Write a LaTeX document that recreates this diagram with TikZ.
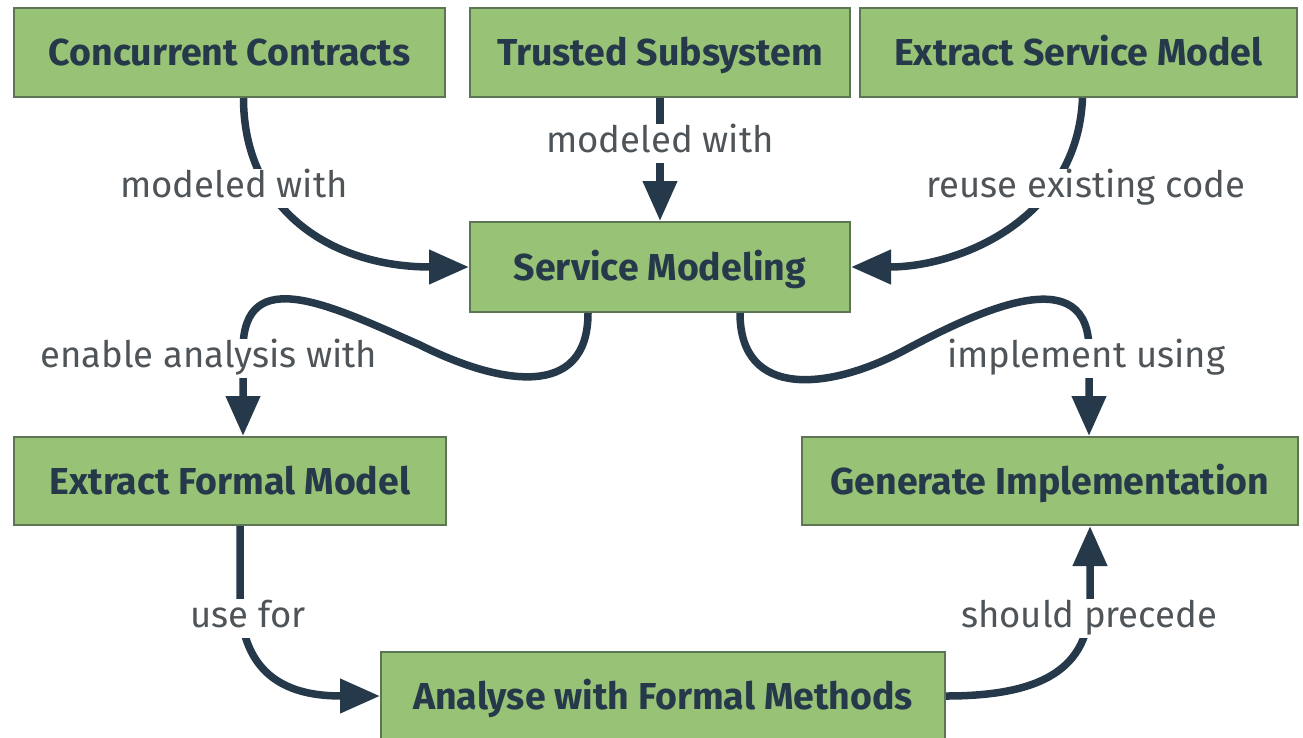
\documentclass[tikz,border=0pt]{standalone}
\usepackage{fontspec}
\setmainfont{Fira Sans}
\usetikzlibrary{arrows.meta}
\definecolor{boxgreen}{RGB}{152,194,118}
\definecolor{boxedge}{RGB}{92,118,84}
\definecolor{ink}{RGB}{37,57,74}
\definecolor{lblgray}{RGB}{78,84,88}
\tikzset{
  box/.style={draw=boxedge, line width=2pt, fill=boxgreen, inner sep=0pt,
    text=ink, text height=26pt, text depth=0pt,
    font=\fontsize{37.5}{40}\selectfont\bfseries},
  lbl/.style={fill=white, inner xsep=3pt, inner ysep=2pt, text=lblgray,
    text height=27pt, text depth=8pt,
    font=\fontsize{36.5}{40}\selectfont},
  conn/.style={draw=ink, line width=7.5pt, -{Triangle[length=40pt,width=33pt]}},
}
\begin{document}
\begin{tikzpicture}[x=1pt,y=-1pt]
\useasboundingbox (0,0) rectangle (1303,737);
\clip (0,0) rectangle (1303,737);
\fill[white] (0,0) rectangle (1303,737);
% boxes
\node[box, minimum width=431pt, minimum height=89pt] (cc) at (229.5,52.5) {Concurrent Contracts};
\node[box, minimum width=380pt, minimum height=89pt] (ts) at (660,52.5) {Trusted Subsystem};
\node[box, minimum width=437pt, minimum height=89pt] (esm) at (1078.5,52.5) {Extract Service Model};
\node[box, minimum width=380pt, minimum height=90pt] (sm) at (660,267) {Service Modeling};
\node[box, minimum width=432pt, minimum height=88pt] (efm) at (230,481) {Extract Formal Model};
\node[box, minimum width=496pt, minimum height=88pt] (gi) at (1050,481) {Generate Implementation};
\node[box, minimum width=564pt, minimum height=88pt] (afm) at (663,696) {Analyse with Formal Methods};
% connectors
\draw[conn] ([xshift=14pt]cc.south) .. controls +(0,110) and +(-140,0) .. (sm.west);
\draw[conn] (ts.south) -- (sm.north);
\draw[conn] ([xshift=4pt]esm.south) .. controls +(-5,120) and +(110,0) .. (sm.east);
\draw[conn] ([xshift=-72pt]sm.south) .. controls (588,400) and (500,385) .. (420,345)
  .. controls (332,306) and (243,262) .. (243,350) -- ([xshift=13pt]efm.north);
\draw[conn] ([xshift=80pt]sm.south) .. controls (740,400) and (830,390) .. (905,350)
  .. controls (987,306) and (1089,262) .. (1089,350) -- ([xshift=39pt]gi.north);
\draw[conn] ([xshift=10pt]efm.south) -- (240,600) .. controls (242,685) and (300,696) .. (afm.west);
\draw[conn] (afm.east) .. controls (1040,696) and (1090,670) .. (1090,600) -- ([xshift=40pt]gi.south);
% labels
\node[lbl] (l1) at (234,188) {modeled with};
\node[lbl] (l2) at (660,143) {modeled with};
\node[lbl] (l3) at (1086,188) {reuse existing code};
\node[lbl] (l4) at (209,358) {enable analysis with};
\node[lbl] (l5) at (1086,358) {implement using};
\node[lbl] (l6) at (248,618) {use for};
\node[lbl] (l7) at (1089,618) {should precede};
\end{tikzpicture}
\end{document}
